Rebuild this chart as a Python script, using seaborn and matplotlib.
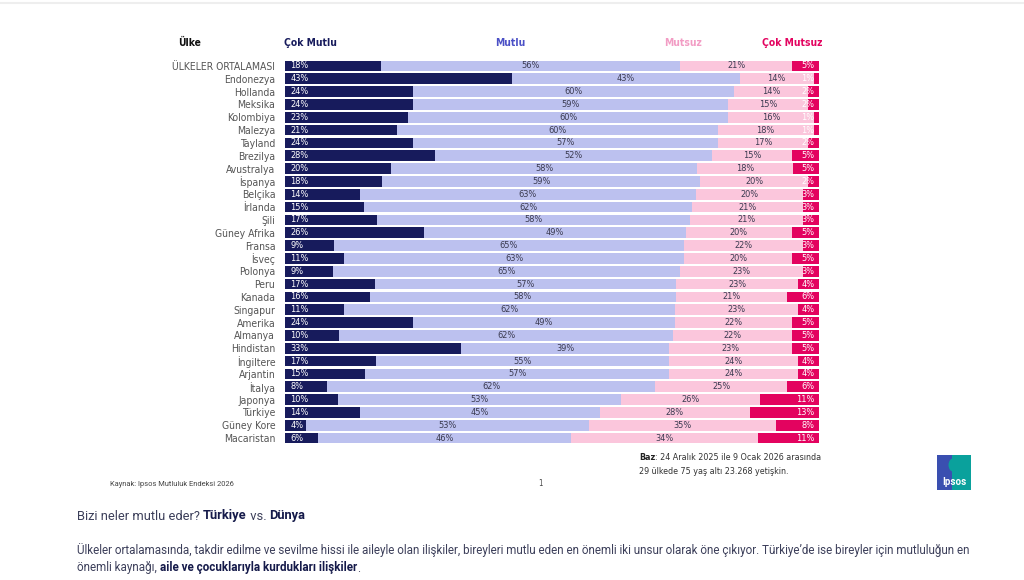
import numpy as np
import pandas as pd
import matplotlib
matplotlib.use("Agg")
import matplotlib.pyplot as plt
import seaborn as sns
from matplotlib.patches import Rectangle, Ellipse
from matplotlib.lines import Line2D

# data
countries = ["ÜLKELER ORTALAMASI", "Endonezya", "Hollanda", "Meksika", "Kolombiya", "Malezya",
             "Tayland", "Brezilya", "Avustralya", "İspanya", "Belçika", "İrlanda", "Şili",
             "Güney Afrika", "Fransa", "İsveç", "Polonya", "Peru", "Kanada", "Singapur",
             "Amerika", "Almanya", "Hindistan", "İngiltere", "Arjantin", "İtalya", "Japonya",
             "Türkiye", "Güney Kore", "Macaristan"]
cok_mutlu = [18, 43, 24, 24, 23, 21, 24, 28, 20, 18, 14, 15, 17, 26, 9, 11, 9, 17, 16, 11,
             24, 10, 33, 17, 15, 8, 10, 14, 4, 6]
mutlu = [56, 43, 60, 59, 60, 60, 57, 52, 58, 59, 63, 62, 58, 49, 65, 63, 65, 57, 58, 62,
         49, 62, 39, 55, 57, 62, 53, 45, 53, 46]
mutsuz = [21, 14, 14, 15, 16, 18, 17, 15, 18, 20, 20, 21, 21, 20, 22, 20, 23, 23, 21, 23,
          22, 22, 23, 24, 24, 25, 26, 28, 35, 34]
cok_mutsuz = [5, 1, 2, 2, 1, 1, 2, 5, 5, 2, 3, 3, 3, 5, 3, 5, 3, 4, 6, 4,
              5, 5, 5, 4, 4, 6, 11, 13, 8, 11]

series = ["Çok Mutlu", "Mutlu", "Mutsuz", "Çok Mutsuz"]
colors = ["#171b5c", "#bcc1ef", "#fbc6dc", "#e3035f"]
header_colors = ["#171b5c", "#4b50c6", "#f29cc4", "#e3035f"]

df = pd.DataFrame({"Ülke": countries, "Çok Mutlu": cok_mutlu, "Mutlu": mutlu,
                   "Mutsuz": mutsuz, "Çok Mutsuz": cok_mutsuz})
total = df[series].sum(axis=1)
shares = df[series].div(total, axis=0) * 100
cums = shares.cumsum(axis=1)

narrow = ["DejaVu Sans"]
body = ["Roboto", "DejaVu Sans"]

sns.set_theme(style="white")
plt.rcParams["font.family"] = narrow
plt.rcParams["font.stretch"] = "condensed"

fig = plt.figure(figsize=(10.24, 5.80), dpi=100)
ax = fig.add_axes([285 / 1024, 1 - 444.5 / 580, 534 / 1024, 385 / 580])

# stacked bars: draw cumulative totals from the widest down
for s, c in zip(series[::-1], colors[::-1]):
    sns.barplot(x=cums[s], y=df["Ülke"], color=c, orient="h", width=0.84,
                saturation=1, ax=ax, linewidth=0)

ax.set_xlim(0, 100)
ax.set_ylim(len(countries) - 0.5, -0.5)
ax.set_xlabel("")
ax.set_ylabel("")
ax.set_xticks([])
ax.tick_params(axis="y", length=0, pad=7, labelsize=7.5, labelcolor="#555555")
for sp in ax.spines.values():
    sp.set_visible(False)

# value labels
for i in range(len(df)):
    left = 0
    for j, s in enumerate(series):
        w = shares.loc[i, s]
        v = df.loc[i, s]
        lab = f"{v}%"
        if j == 0:
            ax.text(left + 1.0, i, lab, ha="left", va="center", color="white", fontsize=6.6)
        elif j == 3:
            ax.text(100 - 0.9, i, lab, ha="right", va="center", color="white", fontsize=6.6)
        else:
            ax.text(left + w / 2, i, lab, ha="center", va="center", color="#3a3a50", fontsize=6.6)
        left += w

# header row
hsize = 7.4
fig.text(178 / 1024, 1 - 43 / 580, "Ülke", ha="left", va="center", fontsize=hsize,
         fontweight="bold", color="#111111")
fig.text(284 / 1024, 1 - 43 / 580, series[0], ha="left", va="center", fontsize=hsize,
         fontweight="bold", color=header_colors[0])
fig.text(510 / 1024, 1 - 43 / 580, series[1], ha="center", va="center", fontsize=hsize,
         fontweight="bold", color=header_colors[1])
fig.text(683 / 1024, 1 - 43 / 580, series[2], ha="center", va="center", fontsize=hsize,
         fontweight="bold", color=header_colors[2])
fig.text(822 / 1024, 1 - 43 / 580, series[3], ha="right", va="center", fontsize=hsize,
         fontweight="bold", color=header_colors[3])

# top thin line
fig.add_artist(Line2D([0, 1], [1 - 3 / 580, 1 - 3 / 580], color="#eeeeee", lw=1.5,
                      transform=fig.transFigure))

renderer = fig.canvas.get_renderer()


def rich_line(x_px, y_px, parts, size, family, stretch="normal"):
    x = x_px
    for txt, bold, col in parts:
        t = fig.text(x / 1024, 1 - y_px / 580, txt, ha="left", va="center", fontsize=size,
                     fontweight="bold" if bold else "normal", color=col, family=family,
                     fontstretch=stretch)
        x += t.get_window_extent(renderer).width
    return x


# footnotes
rich_line(639, 457, [("Baz", True, "#222222"), (": 24 Aralık 2025 ile 9 Ocak 2026 arasında", False, "#333333")],
          6.4, narrow, "condensed")
rich_line(639, 472, [("29 ülkede 75 yaş altı 23.268 yetişkin.", False, "#333333")], 6.4, narrow, "condensed")
fig.text(110 / 1024, 1 - 484 / 580, "Kaynak: Ipsos Mutluluk Endeksi 2026", ha="left", va="center",
         fontsize=5.4, color="#444444", family=body, fontstretch="normal")
fig.text(540 / 1024, 1 - 484 / 580, "1", ha="center", va="center", fontsize=5.5, color="#444444")

# Ipsos logo
fig.add_artist(Rectangle((937 / 1024, 1 - 490 / 580), 34 / 1024, 35 / 580, transform=fig.transFigure,
                         facecolor="#0aa19c", edgecolor="none"))
fig.add_artist(Rectangle((937 / 1024, 1 - 490 / 580), 15 / 1024, 35 / 580, transform=fig.transFigure,
                         facecolor="#3a4fb0", edgecolor="none"))
fig.add_artist(Ellipse((954 / 1024, 1 - 465 / 580), 11 / 1024, 14 / 580, transform=fig.transFigure,
                       facecolor="#0aa19c", edgecolor="none"))
fig.text(954 / 1024, 1 - 482 / 580, "Ipsos", ha="center", va="center", fontsize=7,
         fontweight="bold", color="white", family=body, fontstretch="normal")

# text below the chart
txt_col = "#3c3f5a"
bold_col = "#151a4a"
rich_line(77, 516, [("Bizi neler mutlu eder? ", False, txt_col), ("Türkiye", True, bold_col),
                    (" vs. ", False, txt_col), ("Dünya", True, bold_col)], 9.3, body)

line1 = ("Ülkeler ortalamasında, takdir edilme ve sevilme hissi ile aileyle olan ilişkiler, bireyleri "
         "mutlu eden en önemli iki unsur olarak öne çıkıyor. Türkiye’de ise bireyler için mutluluğun en")
probe = fig.text(0, 0, line1, fontsize=10, family=body, fontstretch="normal")
w10 = probe.get_window_extent(renderer).width
probe.remove()
size = 10 * 904 / w10
fig.text(77 / 1024, 1 - 550 / 580, line1, ha="left", va="center", fontsize=size, color=txt_col,
         family=body, fontstretch="normal")
rich_line(77, 568, [("önemli kaynağı, ", False, txt_col),
                    ("aile ve çocuklarıyla kurdukları ilişkiler", True, bold_col),
                    (".", False, txt_col)], size, body)

fig.savefig("out.png", dpi=100, facecolor="white")
